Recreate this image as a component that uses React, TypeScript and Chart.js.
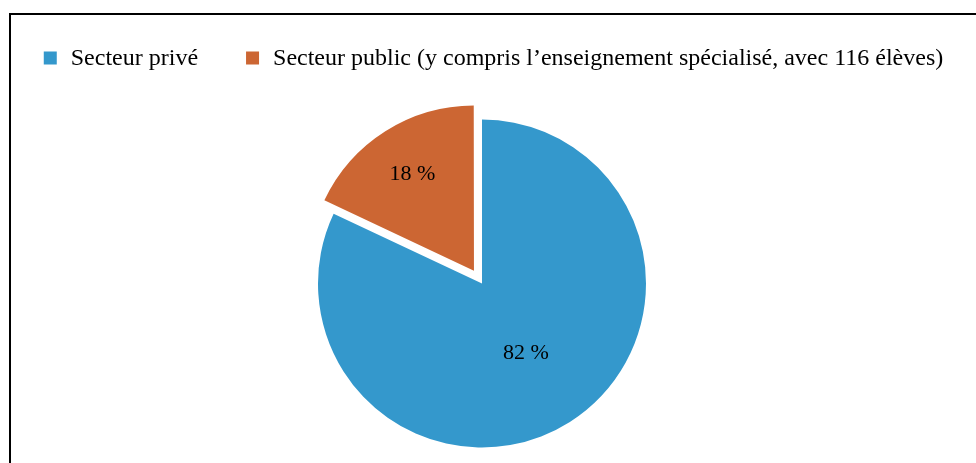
import React, { useEffect, useRef } from "react";
import { Chart, registerables } from "chart.js";

Chart.register(...registerables);

const categories = [
  "Secteur privé",
  "Secteur public (y compris l’enseignement spécialisé, avec 116 élèves)",
];
const shares = [82, 18];
const valueLabels = ["82 %", "18 %"];
const colors = ["#3498CC", "#CC6633"];
const offsets = [0, 60];
const labelRatios = [0.5, 0.7];

const FONT = '"Liberation Serif", "Times New Roman", serif';
const FONT_SIZE = 24;
const LABEL_FONT_SIZE = 22;
const BOX = 13;
const BOX_GAP = 14;
const ITEM_GAP = 48;
const LEGEND_Y = 43;

const legendPlugin = {
  id: "customLegend",
  afterDraw(chart: any) {
    const ctx = chart.ctx;
    const labels: string[] = chart.data.labels;
    const cols: string[] = chart.data.datasets[0].backgroundColor;
    ctx.save();
    ctx.font = `${FONT_SIZE}px ${FONT}`;
    const widths = labels.map((l) => ctx.measureText(l).width);
    const total =
      widths.reduce((a, w) => a + BOX + BOX_GAP + w, 0) + ITEM_GAP * (labels.length - 1);
    let x = (chart.width - total) / 2;
    ctx.textBaseline = "middle";
    ctx.textAlign = "left";
    labels.forEach((l, i) => {
      ctx.fillStyle = cols[i];
      ctx.fillRect(x, LEGEND_Y - BOX / 2, BOX, BOX);
      ctx.fillStyle = "#000";
      ctx.fillText(l, x + BOX + BOX_GAP, LEGEND_Y + 1);
      x += BOX + BOX_GAP + widths[i] + ITEM_GAP;
    });
    ctx.restore();
  },
};

const valueLabelPlugin = {
  id: "valueLabels",
  afterDatasetsDraw(chart: any) {
    const ctx = chart.ctx;
    const meta = chart.getDatasetMeta(0);
    ctx.save();
    ctx.font = `${LABEL_FONT_SIZE}px ${FONT}`;
    ctx.fillStyle = "#000";
    ctx.textAlign = "center";
    ctx.textBaseline = "middle";
    meta.data.forEach((arc: any, i: number) => {
      const p = arc.getProps(["x", "y", "startAngle", "endAngle", "outerRadius"], true);
      const mid = (p.startAngle + p.endAngle) / 2;
      const shift = (arc.options.offset || 0) / 4;
      const r = p.outerRadius * labelRatios[i] + shift;
      ctx.fillText(valueLabels[i], p.x + Math.cos(mid) * r, p.y + Math.sin(mid) * r);
    });
    ctx.restore();
  },
};

export default function App() {
  const canvasRef = useRef<HTMLCanvasElement | null>(null);

  useEffect(() => {
    if (!canvasRef.current) return;
    const chart = new Chart(canvasRef.current, {
      type: "pie",
      data: {
        labels: categories,
        datasets: [
          {
            data: shares,
            backgroundColor: colors,
            borderWidth: 0,
            offset: offsets,
            radius: 164,
          } as any,
        ],
      },
      options: {
        animation: false,
        responsive: true,
        maintainAspectRatio: false,
        layout: { padding: { left: 0, right: 23, top: 89, bottom: 0 } },
        plugins: {
          legend: { display: false },
          tooltip: { enabled: false },
        },
      },
      plugins: [legendPlugin, valueLabelPlugin],
    });
    return () => chart.destroy();
  }, []);

  return (
    <div
      style={{
        position: "absolute",
        left: 9,
        top: 13,
        width: 967,
        height: 450,
        borderTop: "2px solid #000",
        borderLeft: "2px solid #000",
        boxSizing: "border-box",
        background: "#fff",
      }}
    >
      <div style={{ position: "relative", width: "100%", height: "100%" }}>
        <canvas ref={canvasRef} />
      </div>
    </div>
  );
}
